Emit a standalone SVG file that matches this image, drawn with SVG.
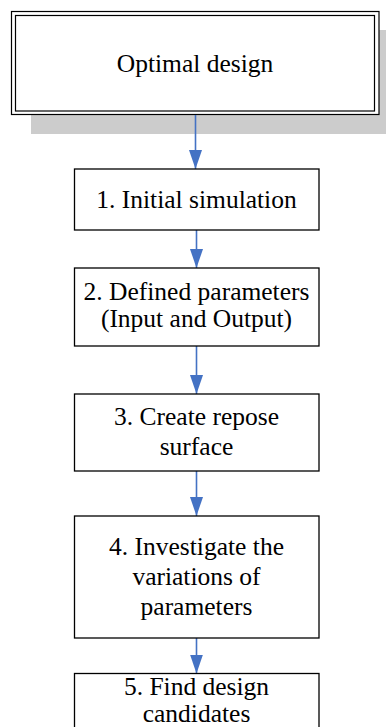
<svg xmlns="http://www.w3.org/2000/svg" width="386" height="727" viewBox="0 0 386 727">
<style>
.box{fill:#ffffff;stroke:#000000;stroke-width:1.3}
.dbl{stroke:#000000;stroke-width:1.2}
.lbl{font-family:"Liberation Serif","Times New Roman",serif;font-size:25.5px;fill:#000000;text-anchor:middle}
.conn{stroke:#4472C4;stroke-width:1.6;fill:none;marker-end:url(#ah)}
</style>
<defs>
<marker id="ah" markerUnits="userSpaceOnUse" markerWidth="19" markerHeight="14" viewBox="0 0 19 14" refX="19" refY="7" orient="auto">
<path d="M0,0.5 L19,7 L0,13.5 z" fill="#4472C4"/>
</marker>
</defs>
<g id="optimal-design">
<rect x="31" y="30" width="360" height="104" fill="#cccccc"/>
<rect x="11.5" y="11.5" width="367.5" height="103" fill="#ffffff" class="dbl"/>
<rect x="15.5" y="15.5" width="359" height="95.5" fill="none" class="dbl"/>
<text class="lbl" x="195" y="72">Optimal design</text>
</g>
<g id="connectors">
<line class="conn" x1="195.5" y1="115" x2="195.5" y2="169"/>
<line class="conn" x1="196.5" y1="230" x2="196.5" y2="268"/>
<line class="conn" x1="196.5" y1="346" x2="196.5" y2="394"/>
<line class="conn" x1="196.5" y1="471" x2="196.5" y2="516"/>
<line class="conn" x1="196.5" y1="638" x2="196.5" y2="673.5"/>
</g>
<g id="step1">
<rect class="box" x="74.5" y="169" width="244.5" height="61"/>
<text class="lbl" x="196.5" y="208">1. Initial simulation</text>
</g>
<g id="step2">
<rect class="box" x="74.5" y="268" width="244.5" height="78"/>
<text class="lbl" x="196.5" y="300">2. Defined parameters</text>
<text class="lbl" x="196.5" y="327">(Input and Output)</text>
</g>
<g id="step3">
<rect class="box" x="74.5" y="394" width="244.5" height="77"/>
<text class="lbl" x="196.5" y="425">3. Create repose</text>
<text class="lbl" x="196.5" y="455">surface</text>
</g>
<g id="step4">
<rect class="box" x="74.5" y="516" width="244.5" height="122"/>
<text class="lbl" x="196.5" y="555">4. Investigate the</text>
<text class="lbl" x="196.5" y="585">variations of</text>
<text class="lbl" x="196.5" y="615">parameters</text>
</g>
<g id="step5">
<rect class="box" x="74.5" y="673.5" width="244.5" height="60"/>
<text class="lbl" x="196.5" y="695">5. Find design</text>
<text class="lbl" x="196.5" y="722">candidates</text>
</g>
</svg>
